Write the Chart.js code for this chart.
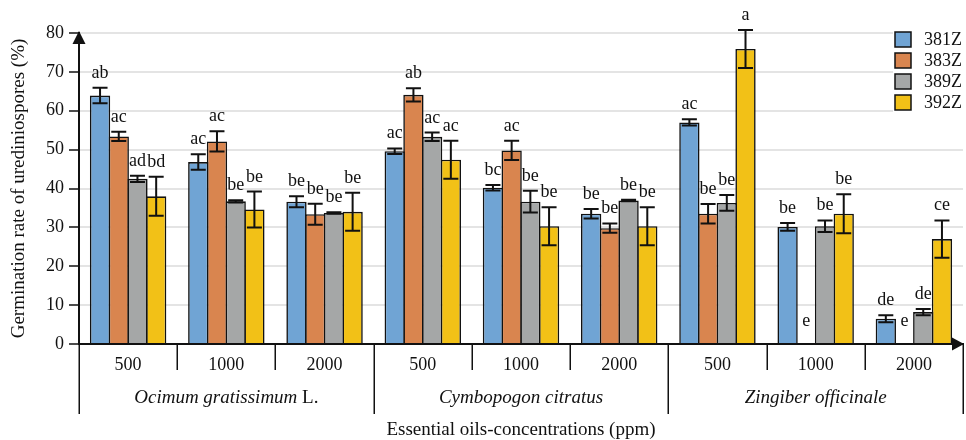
<!DOCTYPE html>
<html>
<head>
<meta charset="utf-8">
<script src="https://cdn.jsdelivr.net/npm/chart.js@4/dist/chart.umd.min.js"></script>
<style>
  html, body { margin: 0; padding: 0; background: #fff; }
  canvas { display: block; }
</style>
</head>
<body>
<canvas id="chart" width="966" height="440"></canvas>
<script>
// Germination rate of urediniospores per isolate, by essential oil and concentration
const concentrations = ['500', '1000', '2000', '500', '1000', '2000', '500', '1000', '2000'];
const oilNames = ['Ocimum gratissimum', 'Cymbopogon citratus', 'Zingiber officinale'];
const oilAuthors = [' L.', '', ''];
const isolates = ['381Z', '383Z', '389Z', '392Z'];

const rate381Z = [63.9, 46.8, 36.6, 49.6, 40.2, 33.5, 57.0, 30.1, 6.5];
const rate383Z = [53.4, 52.1, 33.4, 64.1, 49.8, 29.8, 33.5, 0, 0];
const rate389Z = [42.5, 36.7, 33.7, 53.3, 36.6, 36.9, 36.3, 30.3, 8.2];
const rate392Z = [38.0, 34.6, 34.0, 47.4, 30.3, 30.3, 75.9, 33.5, 27.0];

const err381Z = [2.0, 2.0, 1.4, 0.7, 0.7, 1.2, 0.8, 1.0, 0.9];
const err383Z = [1.2, 2.6, 2.7, 1.7, 2.5, 1.2, 2.5, 0, 0];
const err389Z = [0.8, 0.3, 0.2, 1.1, 2.8, 0.2, 2.0, 1.5, 0.8];
const err392Z = [5.0, 4.6, 4.9, 4.9, 4.9, 4.9, 4.9, 5.0, 4.8];

const letters381Z = ['ab', 'ac', 'be', 'ac', 'bc', 'be', 'ac', 'be', 'de'];
const letters383Z = ['ac', 'ac', 'be', 'ab', 'ac', 'be', 'be', 'e', 'e'];
const letters389Z = ['ad', 'be', 'be', 'ac', 'be', 'be', 'be', 'be', 'de'];
const letters392Z = ['bd', 'be', 'be', 'ac', 'be', 'be', 'a', 'be', 'ce'];

const FONT = "'Liberation Serif', 'Times New Roman', serif";
const colors = ['#70a4d4', '#d9854f', '#a5a7a7', '#f2c117'];

const rates = [rate381Z, rate383Z, rate389Z, rate392Z];
const errors = [err381Z, err383Z, err389Z, err392Z];
const letters = [letters381Z, letters383Z, letters389Z, letters392Z];

const datasets = isolates.map((name, i) => ({
  label: name,
  data: rates[i],
  errors: errors[i],
  letters: letters[i],
  backgroundColor: colors[i],
  borderColor: '#111',
  borderWidth: 1.6,
  borderSkipped: 'start',
  categoryPercentage: 0.762,
  barPercentage: 1.085
}));

// Error bars, significance letters, axis arrows, grouped axis labels and legend
const decorations = {
  id: 'decorations',
  afterDatasetsDraw(chart) {
    const ctx = chart.ctx;
    const xs = chart.scales.x;
    const ys = chart.scales.y;
    const axisY = ys.getPixelForValue(0);

    // error bars
    ctx.save();
    ctx.strokeStyle = '#111';
    ctx.lineWidth = 2;
    chart.data.datasets.forEach((ds, di) => {
      const meta = chart.getDatasetMeta(di);
      meta.data.forEach((bar, j) => {
        const e = ds.errors[j];
        if (!e) return;
        const v = ds.data[j];
        const yTop = ys.getPixelForValue(v + e);
        const yBot = ys.getPixelForValue(v - e);
        const x = bar.x;
        const cap = 7.5;
        ctx.beginPath();
        ctx.moveTo(x, yTop); ctx.lineTo(x, yBot);
        ctx.moveTo(x - cap, yTop); ctx.lineTo(x + cap, yTop);
        ctx.moveTo(x - cap, yBot); ctx.lineTo(x + cap, yBot);
        ctx.stroke();
      });
    });
    ctx.restore();

    // significance letters
    ctx.save();
    ctx.fillStyle = '#111';
    ctx.font = '18px ' + FONT;
    ctx.textAlign = 'center';
    ctx.textBaseline = 'alphabetic';
    chart.data.datasets.forEach((ds, di) => {
      const meta = chart.getDatasetMeta(di);
      meta.data.forEach((bar, j) => {
        const top = ys.getPixelForValue(ds.data[j] + ds.errors[j]);
        const y = Math.min(top - 10, axisY - 18);
        ctx.fillText(ds.letters[j], bar.x, y);
      });
    });
    ctx.restore();
  },
  afterDraw(chart) {
    const ctx = chart.ctx;
    const xs = chart.scales.x;
    const ys = chart.scales.y;
    const axisY = ys.getPixelForValue(0);
    const n = chart.data.labels.length;
    const cw = (xs.right - xs.left) / n;

    // dividers below the axis
    ctx.save();
    ctx.strokeStyle = '#111';
    ctx.lineWidth = 1.5;
    for (let i = 0; i <= n; i++) {
      const x = Math.round(xs.left + i * cw) + 0.25;
      const bottom = (i % 3 === 0) ? 414 : 370;
      ctx.beginPath();
      ctx.moveTo(x, axisY);
      ctx.lineTo(x, bottom);
      ctx.stroke();
    }
    ctx.restore();

    // oil names under each group of concentrations
    ctx.save();
    ctx.fillStyle = '#111';
    ctx.textBaseline = 'alphabetic';
    ctx.textAlign = 'left';
    const italic = 'italic 19px ' + FONT;
    const upright = '19px ' + FONT;
    oilNames.forEach((name, g) => {
      ctx.font = italic;
      const w1 = ctx.measureText(name).width;
      ctx.font = upright;
      const w2 = ctx.measureText(oilAuthors[g]).width;
      const cx = xs.left + (g * 3 + 1.5) * cw;
      const x0 = cx - (w1 + w2) / 2;
      ctx.font = italic;
      ctx.fillText(name, x0, 403);
      ctx.font = upright;
      ctx.fillText(oilAuthors[g], x0 + w1, 403);
    });
    ctx.restore();

    // axis arrows
    ctx.save();
    ctx.fillStyle = '#111';
    const ax = ys.right;
    ctx.beginPath();
    ctx.moveTo(ax, ys.top - 2);
    ctx.lineTo(ax - 6.5, ys.top + 11);
    ctx.lineTo(ax + 6.5, ys.top + 11);
    ctx.closePath();
    ctx.fill();
    const tipX = xs.right + 1;
    ctx.beginPath();
    ctx.moveTo(tipX, axisY);
    ctx.lineTo(tipX - 12, axisY - 6.5);
    ctx.lineTo(tipX - 12, axisY + 6.5);
    ctx.closePath();
    ctx.fill();
    ctx.restore();

    // legend
    ctx.save();
    const lx = 895, ly = 32, row = 21;
    ctx.fillStyle = '#fff';
    ctx.fillRect(lx - 2, ly - 2, xs.right - lx + 2, row * 4 - 1);
    ctx.font = '18px ' + FONT;
    ctx.textBaseline = 'middle';
    ctx.textAlign = 'left';
    chart.data.datasets.forEach((ds, i) => {
      const y = ly + i * row;
      ctx.fillStyle = ds.backgroundColor;
      ctx.fillRect(lx, y, 16, 15);
      ctx.strokeStyle = '#111';
      ctx.lineWidth = 1.5;
      ctx.strokeRect(lx, y, 16, 15);
      ctx.fillStyle = '#111';
      ctx.fillText(ds.label, lx + 29, y + 8);
    });
    ctx.restore();
  }
};

new Chart(document.getElementById('chart'), {
  type: 'bar',
  data: { labels: concentrations, datasets },
  options: {
    responsive: false,
    animation: false,
    devicePixelRatio: 1,
    layout: { padding: { top: 33, right: 3, left: 0, bottom: 0 } },
    plugins: { legend: { display: false }, tooltip: { enabled: false } },
    scales: {
      x: {
        grid: { display: false, drawTicks: false },
        border: { display: true, color: '#111', width: 2 },
        ticks: { font: { family: FONT, size: 18 }, color: '#111', padding: 10, maxRotation: 0, autoSkip: false },
        title: {
          display: true,
          text: 'Essential oils-concentrations (ppm)',
          font: { family: FONT, size: 19, lineHeight: 1 },
          color: '#111',
          padding: 0
        },
        afterFit(scale) { scale.height = 96; }
      },
      y: {
        min: 0,
        max: 80,
        ticks: { stepSize: 10, font: { family: FONT, size: 18 }, color: '#111', padding: 5 },
        grid: {
          color: ctx => (ctx.tick && ctx.tick.value === 0) ? 'rgba(0,0,0,0)' : '#e4e4e4',
          lineWidth: 2,
          tickColor: '#111',
          tickLength: 10,
          tickWidth: 1.5
        },
        border: { color: '#111', width: 2 },
        title: {
          display: true,
          text: 'Germination rate of urediniospores (%)',
          font: { family: FONT, size: 19, lineHeight: 1.2 },
          color: '#111',
          padding: { top: 8, bottom: 0 }
        },
        afterFit(scale) { scale.width = 79; }
      }
    }
  },
  plugins: [decorations]
});
</script>
</body>
</html>
